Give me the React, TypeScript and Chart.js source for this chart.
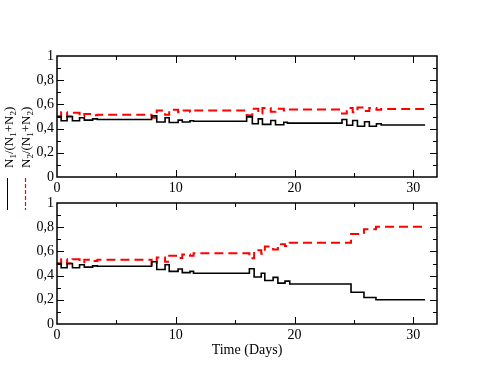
import React, { useEffect, useRef } from "react";
import { Chart, registerables } from "chart.js";

Chart.register(...registerables);

// ---- data (step change times in days, and level after each change) ----
const topTimes = [0, 0.35, 0.85, 1.3, 1.9, 2.3, 3.0, 3.4, 7.97, 8.4, 9.1, 9.45, 10.2, 10.55, 11.2, 11.5, 15.97, 16.45, 16.95, 17.3, 18.0, 18.4, 19.1, 19.4, 24.0, 24.4, 24.9, 25.3, 25.9, 26.3, 26.9, 27.3, 31];
const topN1 = [0.5, 0.465, 0.5, 0.465, 0.49, 0.47, 0.48, 0.475, 0.505, 0.455, 0.49, 0.45, 0.47, 0.455, 0.465, 0.461, 0.497, 0.44, 0.48, 0.435, 0.467, 0.432, 0.452, 0.445, 0.475, 0.428, 0.467, 0.42, 0.456, 0.42, 0.44, 0.43, 0.43];
const topN2 = [0.5, 0.535, 0.5, 0.53, 0.505, 0.52, 0.51, 0.515, 0.49, 0.55, 0.515, 0.555, 0.535, 0.55, 0.54, 0.55, 0.51, 0.565, 0.525, 0.57, 0.54, 0.565, 0.55, 0.558, 0.525, 0.57, 0.535, 0.575, 0.545, 0.57, 0.555, 0.562, 0.562];

const botTimes = [0, 0.35, 0.85, 1.3, 1.9, 2.3, 3.0, 3.4, 7.97, 8.4, 9.1, 9.45, 10.2, 10.55, 11.2, 11.5, 16.2, 16.6, 17.2, 17.5, 18.2, 18.6, 19.2, 19.6, 24.76, 25.85, 26.86, 31];
const botN1 = [0.5, 0.465, 0.5, 0.465, 0.49, 0.47, 0.48, 0.477, 0.515, 0.45, 0.49, 0.435, 0.455, 0.425, 0.435, 0.42, 0.456, 0.389, 0.42, 0.36, 0.385, 0.338, 0.354, 0.331, 0.262, 0.219, 0.2, 0.2];
const botN2 = [0.5, 0.535, 0.5, 0.535, 0.51, 0.53, 0.52, 0.53, 0.49, 0.55, 0.515, 0.565, 0.545, 0.575, 0.565, 0.585, 0.544, 0.61, 0.58, 0.64, 0.615, 0.66, 0.645, 0.672, 0.744, 0.784, 0.804, 0.804];

const xMin = 0;
const xMax = 32;
const xMajor = [10, 20, 30];
const xMinor = [5, 15, 25];
const yMajor = [0.2, 0.4, 0.6, 0.8];
const yMinor = [0.1, 0.3, 0.5, 0.7, 0.9];

const xTitle = "Time (Days)";

const FONT = '"Liberation Serif", "Times New Roman", serif';
const W = 494;
const H = 382;

const fmtY = (v: number) => {
  if (Math.abs(v) < 1e-9) return "0";
  if (Math.abs(v - 1) < 1e-9) return "1";
  return v.toFixed(1).replace(".", ",");
};

const framePlugin = {
  id: "frameTicks",
  afterDraw(chart: any) {
    const { ctx, chartArea, scales } = chart;
    const { left, right, top, bottom } = chartArea;
    const x = scales.x;
    const y = scales.y;
    ctx.save();
    ctx.strokeStyle = "#000";
    ctx.lineWidth = 1;
    ctx.beginPath();
    const addX = (v: number, len: number) => {
      const px = Math.round(x.getPixelForValue(v)) + 0.5;
      ctx.moveTo(px, bottom);
      ctx.lineTo(px, bottom - len);
      ctx.moveTo(px, top);
      ctx.lineTo(px, top + len);
    };
    const addY = (v: number, len: number) => {
      const py = Math.round(y.getPixelForValue(v)) + 0.5;
      ctx.moveTo(left, py);
      ctx.lineTo(left + len, py);
      ctx.moveTo(right, py);
      ctx.lineTo(right - len, py);
    };
    xMajor.forEach((v) => addX(v, 7));
    xMinor.forEach((v) => addX(v, 4));
    yMajor.forEach((v) => addY(v, 7));
    yMinor.forEach((v) => addY(v, 4));
    ctx.stroke();
    ctx.lineWidth = 1.5;
    ctx.strokeRect(left, top, right - left, bottom - top);
    ctx.restore();
  },
};

const drawSubText = (ctx: CanvasRenderingContext2D, parts: [string, boolean][], x0: number, y0: number) => {
  ctx.save();
  ctx.translate(x0, y0);
  ctx.rotate(-Math.PI / 2);
  ctx.textBaseline = "alphabetic";
  ctx.textAlign = "left";
  let cx = 0;
  for (const [s, sub] of parts) {
    ctx.font = sub ? `9px ${FONT}` : `13px ${FONT}`;
    ctx.fillText(s, cx, sub ? 3 : 0);
    cx += ctx.measureText(s).width;
  }
  ctx.restore();
};

const labelPlugin = {
  id: "sideLabel",
  afterDraw(chart: any) {
    const ctx = chart.ctx as CanvasRenderingContext2D;
    ctx.save();
    ctx.fillStyle = "#000";
    drawSubText(ctx, [["N", false], ["1", true], ["/(N", false], ["1", true], ["+N", false], ["2", true], [")", false]], 13, 168);
    drawSubText(ctx, [["N", false], ["2", true], ["/(N", false], ["1", true], ["+N", false], ["2", true], [")", false]], 30, 168);
    ctx.strokeStyle = "#000000";
    ctx.lineWidth = 1;
    ctx.beginPath();
    ctx.moveTo(7.5, 178);
    ctx.lineTo(7.5, 210);
    ctx.stroke();
    ctx.strokeStyle = "#ff0000";
    ctx.lineWidth = 1.2;
    ctx.setLineDash([4, 2]);
    ctx.beginPath();
    ctx.moveTo(25.5, 178);
    ctx.lineTo(25.5, 210);
    ctx.stroke();
    ctx.restore();
  },
};

function makeConfig(times: number[], n1: number[], n2: number[], areaTop: number, areaBottom: number, withTitle: boolean, extraPlugins: any[]) {
  const xh = withTitle ? 35 : 20;
  return {
    type: "line" as const,
    data: {
      datasets: [
        {
          data: times.map((t, i) => ({ x: t, y: n1[i] })),
          borderColor: "#000000",
          borderWidth: 1.6,
          pointRadius: 0,
          stepped: "before" as const,
          fill: false,
        },
        {
          data: times.map((t, i) => ({ x: t, y: n2[i] })),
          borderColor: "#ff0000",
          borderWidth: 2,
          borderDash: [9, 5],
          pointRadius: 0,
          stepped: "before" as const,
          fill: false,
        },
      ],
    },
    options: {
      animation: false,
      responsive: false,
      devicePixelRatio: 1,
      layout: { padding: { top: areaTop, left: 0, right: 57, bottom: H - areaBottom - xh } },
      plugins: { legend: { display: false }, tooltip: { enabled: false } },
      scales: {
        x: {
          type: "linear" as const,
          min: xMin,
          max: xMax,
          afterFit: (s: any) => { s.height = xh; },
          afterBuildTicks: (s: any) => { s.ticks = [0, 10, 20, 30].map((v) => ({ value: v })); },
          ticks: { color: "#000", font: { family: FONT, size: 14 }, padding: 3, maxRotation: 0 },
          grid: { display: false, drawTicks: false },
          border: { display: false },
          title: withTitle
            ? { display: true, text: xTitle, color: "#000", font: { family: FONT, size: 14 }, padding: { top: 0, bottom: 0 } }
            : { display: false },
        },
        y: {
          type: "linear" as const,
          min: 0,
          max: 1,
          afterFit: (s: any) => { s.width = 57; },
          ticks: { stepSize: 0.2, color: "#000", font: { family: FONT, size: 14 }, padding: 3, callback: (v: any) => fmtY(Number(v)) },
          grid: { display: false, drawTicks: false },
          border: { display: false },
        },
      },
    },
    plugins: [framePlugin, ...extraPlugins],
  };
}

export default function App() {
  const topRef = useRef<HTMLCanvasElement>(null);
  const botRef = useRef<HTMLCanvasElement>(null);
  useEffect(() => {
    const c1 = new Chart(topRef.current as HTMLCanvasElement, makeConfig(topTimes, topN1, topN2, 56, 177, false, [labelPlugin]) as any);
    const c2 = new Chart(botRef.current as HTMLCanvasElement, makeConfig(botTimes, botN1, botN2, 203, 324, true, []) as any);
    return () => {
      c1.destroy();
      c2.destroy();
    };
  }, []);
  const cs: React.CSSProperties = { position: "absolute", left: 0, top: 0, width: W, height: H };
  return (
    <div style={{ position: "absolute", left: 0, top: 0, width: W, height: H, background: "#fff" }}>
      <canvas ref={topRef} width={W} height={H} style={cs} />
      <canvas ref={botRef} width={W} height={H} style={cs} />
    </div>
  );
}
